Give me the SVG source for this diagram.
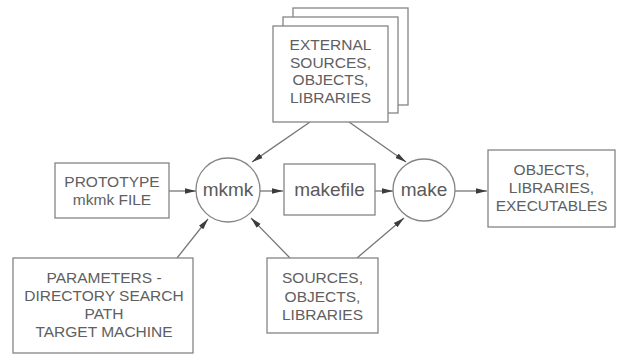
<svg xmlns="http://www.w3.org/2000/svg" width="624" height="356" viewBox="0 0 624 356">
  <style>
    .box { fill: #fff; stroke: #858585; stroke-width: 1.3; }
    .circ { fill: #fff; stroke: #858585; stroke-width: 1.3; }
    .lbl { font-family: "Liberation Sans", Arial, sans-serif; font-size: 15.5px; fill: #606060; text-anchor: middle; }
    .big { font-family: "Liberation Sans", Arial, sans-serif; font-size: 19px; fill: #5a5a5a; text-anchor: middle; }
    .conn { stroke: #767676; stroke-width: 1.3; fill: none; marker-end: url(#arrow); }
  </style>
  <defs>
    <marker id="arrow" markerUnits="userSpaceOnUse" markerWidth="12" markerHeight="8" refX="11" refY="4" orient="auto">
      <path d="M0,1.2 L11,4 L0,6.8 Z" fill="#3c3c3c"/>
    </marker>
  </defs>
  <rect width="624" height="356" fill="#fff"/>

  <!-- connectors -->
  <g id="connectors">
    <line class="conn" x1="310" y1="122" x2="252" y2="162"/>
    <line class="conn" x1="349" y1="122" x2="406" y2="162"/>
    <line class="conn" x1="169" y1="191" x2="196" y2="191"/>
    <line class="conn" x1="260" y1="191" x2="283" y2="191"/>
    <line class="conn" x1="375" y1="191" x2="393" y2="191"/>
    <line class="conn" x1="455" y1="191" x2="487" y2="191"/>
    <line class="conn" x1="177" y1="258" x2="208" y2="219"/>
    <line class="conn" x1="290" y1="258" x2="251" y2="218"/>
    <line class="conn" x1="357" y1="258" x2="404" y2="218"/>
  </g>

  <!-- stacked external inputs -->
  <g id="external">
    <rect class="box" x="293" y="8" width="115" height="97"/>
    <rect class="box" x="283" y="17" width="115" height="96"/>
    <rect class="box" x="273" y="26" width="115" height="96"/>
    <text class="lbl" x="330.5" y="50">EXTERNAL</text>
    <text class="lbl" x="330.5" y="67.5">SOURCES,</text>
    <text class="lbl" x="330.5" y="85">OBJECTS,</text>
    <text class="lbl" x="330.5" y="103">LIBRARIES</text>
  </g>

  <g id="prototype">
    <rect class="box" x="55" y="163" width="114" height="55"/>
    <text class="lbl" x="112" y="187">PROTOTYPE</text>
    <text class="lbl" x="112" y="205">mkmk FILE</text>
  </g>

  <g id="mkmk">
    <circle class="circ" cx="228" cy="190" r="32"/>
    <text class="big" x="228" y="196">mkmk</text>
  </g>

  <g id="makefile">
    <rect class="box" x="284" y="164" width="91" height="51"/>
    <text class="big" x="329.5" y="196">makefile</text>
  </g>

  <g id="make">
    <circle class="circ" cx="424" cy="190" r="31"/>
    <text class="big" x="424" y="196">make</text>
  </g>

  <g id="outputs">
    <rect class="box" x="488" y="150" width="127" height="77"/>
    <text class="lbl" x="551.5" y="175">OBJECTS,</text>
    <text class="lbl" x="551.5" y="193">LIBRARIES,</text>
    <text class="lbl" x="551.5" y="211">EXECUTABLES</text>
  </g>

  <g id="parameters">
    <rect class="box" x="13" y="258" width="180" height="95"/>
    <text class="lbl" x="104" y="283">PARAMETERS -</text>
    <text class="lbl" x="104" y="301">DIRECTORY SEARCH</text>
    <text class="lbl" x="104" y="319">PATH</text>
    <text class="lbl" x="104" y="337">TARGET MACHINE</text>
  </g>

  <g id="sources">
    <rect class="box" x="267" y="258" width="111" height="75"/>
    <text class="lbl" x="322.5" y="283">SOURCES,</text>
    <text class="lbl" x="322.5" y="301.5">OBJECTS,</text>
    <text class="lbl" x="322.5" y="320">LIBRARIES</text>
  </g>
</svg>
